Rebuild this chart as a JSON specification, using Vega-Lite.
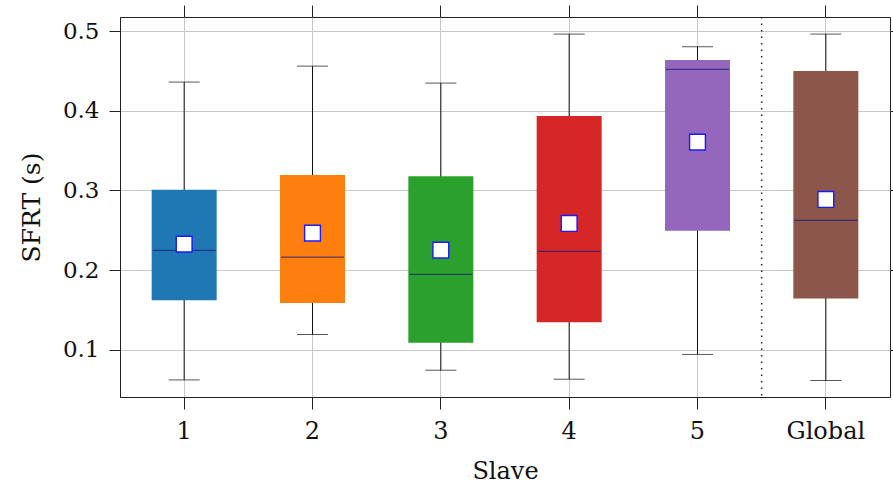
{
  "$schema": "https://vega.github.io/schema/vega-lite/v6.json",
  "width": 770,
  "height": 380,
  "autosize": {"type": "none"},
  "padding": {"left": 120, "top": 17, "right": 3, "bottom": 88},
  "background": "white",
  "config": {
    "view": {"stroke": "#222222", "strokeWidth": 1},
    "font": "DejaVu Serif",
    "axis": {
      "labelFont": "DejaVu Serif",
      "titleFont": "DejaVu Serif",
      "labelFontSize": 23,
      "titleFontSize": 24,
      "titleFontWeight": "normal",
      "labelColor": "#111111",
      "titleColor": "#111111",
      "domainColor": "#222222",
      "tickColor": "#222222",
      "gridColor": "#c8c8c8",
      "gridWidth": 1
    }
  },
  "data": {
    "values": [
      {"slave": "1", "lo": 0.0624, "q1": 0.1624, "median": 0.225, "mean": 0.2327, "q3": 0.301, "hi": 0.436},
      {"slave": "2", "lo": 0.1194, "q1": 0.159, "median": 0.2164, "mean": 0.2465, "q3": 0.3193, "hi": 0.456},
      {"slave": "3", "lo": 0.0746, "q1": 0.109, "median": 0.1947, "mean": 0.2252, "q3": 0.318, "hi": 0.4347},
      {"slave": "4", "lo": 0.0633, "q1": 0.1349, "median": 0.2236, "mean": 0.2587, "q3": 0.3933, "hi": 0.4962},
      {"slave": "5", "lo": 0.0944, "q1": 0.2494, "median": 0.452, "mean": 0.3607, "q3": 0.4636, "hi": 0.4803},
      {"slave": "Global", "lo": 0.0617, "q1": 0.1646, "median": 0.2625, "mean": 0.2888, "q3": 0.4498, "hi": 0.4962}
    ]
  },
  "encoding": {
    "x": {
      "field": "slave",
      "type": "nominal",
      "sort": ["1", "2", "3", "4", "5", "Global"],
      "scale": {"paddingInner": 0, "paddingOuter": 0},
      "axis": null
    }
  },
  "resolve": {"axis": {"x": "independent", "y": "independent"}},
  "layer": [
    {
      "mark": {"type": "rule", "color": "#111111", "strokeWidth": 1},
      "encoding": {
        "x": {
          "field": "slave",
          "type": "nominal",
          "sort": ["1", "2", "3", "4", "5", "Global"],
          "axis": {
            "title": "Slave",
            "labelAngle": 0,
            "labelFontSize": 24,
            "tickSize": 12,
            "labelPadding": 10,
            "titlePadding": 16,
            "grid": true
          }
        },
        "y": {
          "field": "lo",
          "type": "quantitative",
          "scale": {"domain": [0.041, 0.5176], "nice": false, "zero": false},
          "axis": {
            "title": "SFRT (s)",
            "titleFontSize": 25,
            "values": [0.1, 0.2, 0.3, 0.4, 0.5],
            "format": ".1f",
            "tickSize": 11,
            "labelPadding": 10,
            "titlePadding": 18,
            "grid": true
          }
        },
        "y2": {"field": "hi"}
      }
    },
    {
      "mark": {"type": "tick", "color": "#111111", "thickness": 1, "size": 31},
      "encoding": {
        "y": {
          "field": "lo",
          "type": "quantitative",
          "axis": {"orient": "right", "labels": false, "title": null, "grid": false, "domain": false, "tickSize": 6, "values": [0.1, 0.2, 0.3, 0.4, 0.5]}
        }
      }
    },
    {
      "mark": {"type": "tick", "color": "#111111", "thickness": 1, "size": 31},
      "encoding": {
        "x": {
          "field": "slave",
          "type": "nominal",
          "sort": ["1", "2", "3", "4", "5", "Global"],
          "axis": {"orient": "top", "labels": false, "title": null, "grid": false, "domain": false, "tickSize": 12}
        },
        "y": {"field": "hi", "type": "quantitative", "axis": null}
      }
    },
    {
      "mark": {"type": "bar", "size": 65},
      "encoding": {
        "y": {"field": "q1", "type": "quantitative", "axis": null},
        "y2": {"field": "q3"},
        "color": {
          "field": "slave",
          "type": "nominal",
          "sort": ["1", "2", "3", "4", "5", "Global"],
          "scale": {"range": ["#1f77b4", "#ff7f0e", "#2ca02c", "#d62728", "#9467bd", "#8c564b"]},
          "legend": null
        }
      }
    },
    {
      "mark": {"type": "tick", "color": "#1a1a7a", "thickness": 1.2, "size": 63},
      "encoding": {
        "y": {"field": "median", "type": "quantitative", "axis": null}
      }
    },
    {
      "mark": {"type": "point", "shape": "square", "filled": true, "fill": "white", "stroke": "#1a1aff", "strokeWidth": 1.4, "size": 250, "opacity": 1},
      "encoding": {
        "y": {"field": "mean", "type": "quantitative", "axis": null}
      }
    },
    {
      "data": {"values": [{"slave": "Global"}]},
      "mark": {"type": "rule", "color": "#222222", "strokeWidth": 1.5, "strokeDash": [1.5, 5]},
      "encoding": {
        "x": {"field": "slave", "type": "nominal", "bandPosition": 0, "axis": null}
      }
    }
  ]
}
